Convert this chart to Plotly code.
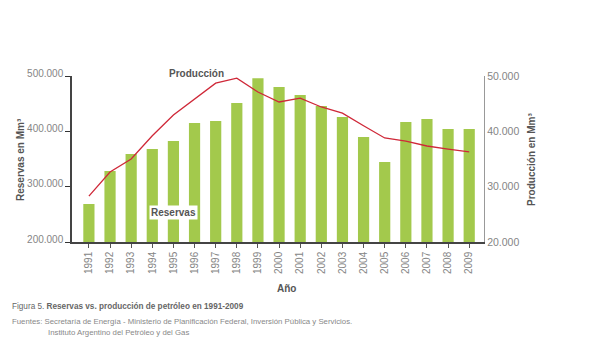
import plotly.graph_objects as go

years = list(range(1991, 2010))
reservas = [268700, 328300, 359000, 368000, 382500, 415000, 418700, 451000, 496000,
            480000, 465700, 445800, 426000, 389800, 344600, 416900, 422300, 404000, 404000]
produccion = [28300, 32650, 35000, 39200, 42950, 45850, 48700, 49600, 47100,
              45300, 46000, 44400, 43300, 41000, 38800, 38250, 37350, 36800, 36300]

left_ticks = [200000, 300000, 400000, 500000]
left_text = ["200.000", "300.000", "400.000", "500.000"]
right_ticks = [20000, 30000, 40000, 50000]
right_text = ["20.000", "30.000", "40.000", "50.000"]

FONT = "Liberation Sans"
GRAY = "#858585"
DARK = "#555555"

L, R, T, B = 72, 109, 76, 100
PW = 593 - L - R
PH = 342 - T - B


def px(xp):
    return (xp - L) / PW


def py(yp):
    return (342 - B - yp) / PH


fig = go.Figure()
fig.add_trace(go.Bar(x=years, y=reservas, marker_color="#a3c94c", width=0.53,
                     marker_line_width=0, name="Reservas", yaxis="y"))
fig.add_trace(go.Scatter(x=years, y=produccion, mode="lines",
                         line=dict(color="#cf2838", width=1.3), name="Producción",
                         yaxis="y2"))

fig.update_layout(
    width=593, height=342,
    margin=dict(l=L, r=R, t=T, b=B),
    paper_bgcolor="white", plot_bgcolor="white",
    showlegend=False,
    font=dict(family=FONT, color=GRAY, size=11),
    xaxis=dict(range=[1990.2, 2009.7], tickvals=years, ticktext=[str(y) for y in years],
               tickangle=-90, ticks="outside", ticklen=4, tickcolor=DARK,
               showline=True, linecolor="#444444", linewidth=1.5, showgrid=False,
               tickfont=dict(size=10, color=GRAY), zeroline=False),
    yaxis=dict(range=[200000, 500000], tickvals=left_ticks, ticktext=left_text,
               ticks="outside", ticklen=5, tickcolor="#333333", showline=True,
               linecolor="#444444", linewidth=1.5, showgrid=False, zeroline=False,
               ticklabelshift=-3,
               tickfont=dict(size=10, color=GRAY)),
    yaxis2=dict(range=[20000, 50000], tickvals=right_ticks, ticktext=right_text,
                overlaying="y", side="right", ticks="", showline=True,
                linecolor="#999999", linewidth=1.2, showgrid=False, zeroline=False,
                tickfont=dict(size=10.5, color=GRAY)),
)

fig.add_annotation(x=1995, y=254000, xref="x", yref="y", text="<b>Reservas</b>",
                   xanchor="center", yanchor="middle",
                   showarrow=False, bgcolor="white", font=dict(size=10, color=DARK))
fig.add_annotation(x=px(196), y=py(73), xref="paper", yref="paper", text="<b>Producción</b>",
                   xanchor="center", yanchor="middle",
                   showarrow=False, font=dict(size=10, color=DARK))

fig.add_annotation(x=px(20), y=py(160), xref="paper", yref="paper",
                   xanchor="center", yanchor="middle",
                   text="<b>Reservas en Mm³</b>", textangle=-90, showarrow=False,
                   font=dict(size=10, color=DARK))
fig.add_annotation(x=px(531), y=py(160), xref="paper", yref="paper",
                   xanchor="center", yanchor="middle",
                   text="<b>Producción en Mm³</b>", textangle=-90, showarrow=False,
                   font=dict(size=10, color=DARK))
fig.add_annotation(x=px(286), y=py(288), xref="paper", yref="paper",
                   xanchor="center", yanchor="middle",
                   text="<b>Año</b>", showarrow=False, font=dict(size=10, color=DARK))

fig.add_annotation(x=px(10), y=py(306), xref="paper", yref="paper",
                   xanchor="left", yanchor="middle",
                   text="Figura 5. <b>Reservas vs. producción de petróleo en 1991-2009</b>",
                   showarrow=False, font=dict(size=8.2, color="#666666"))
fig.add_annotation(x=px(10), y=py(321), xref="paper", yref="paper",
                   xanchor="left", yanchor="middle",
                   text="Fuentes: Secretaría de Energía - Ministerio de Planificación Federal, Inversión Pública y Servicios.",
                   showarrow=False, font=dict(size=7.8, color="#888888"))
fig.add_annotation(x=px(46), y=py(332), xref="paper", yref="paper",
                   xanchor="left", yanchor="middle",
                   text="Instituto Argentino del Petróleo y del Gas",
                   showarrow=False, font=dict(size=7.8, color="#888888"))

fig.write_html("out.html")
